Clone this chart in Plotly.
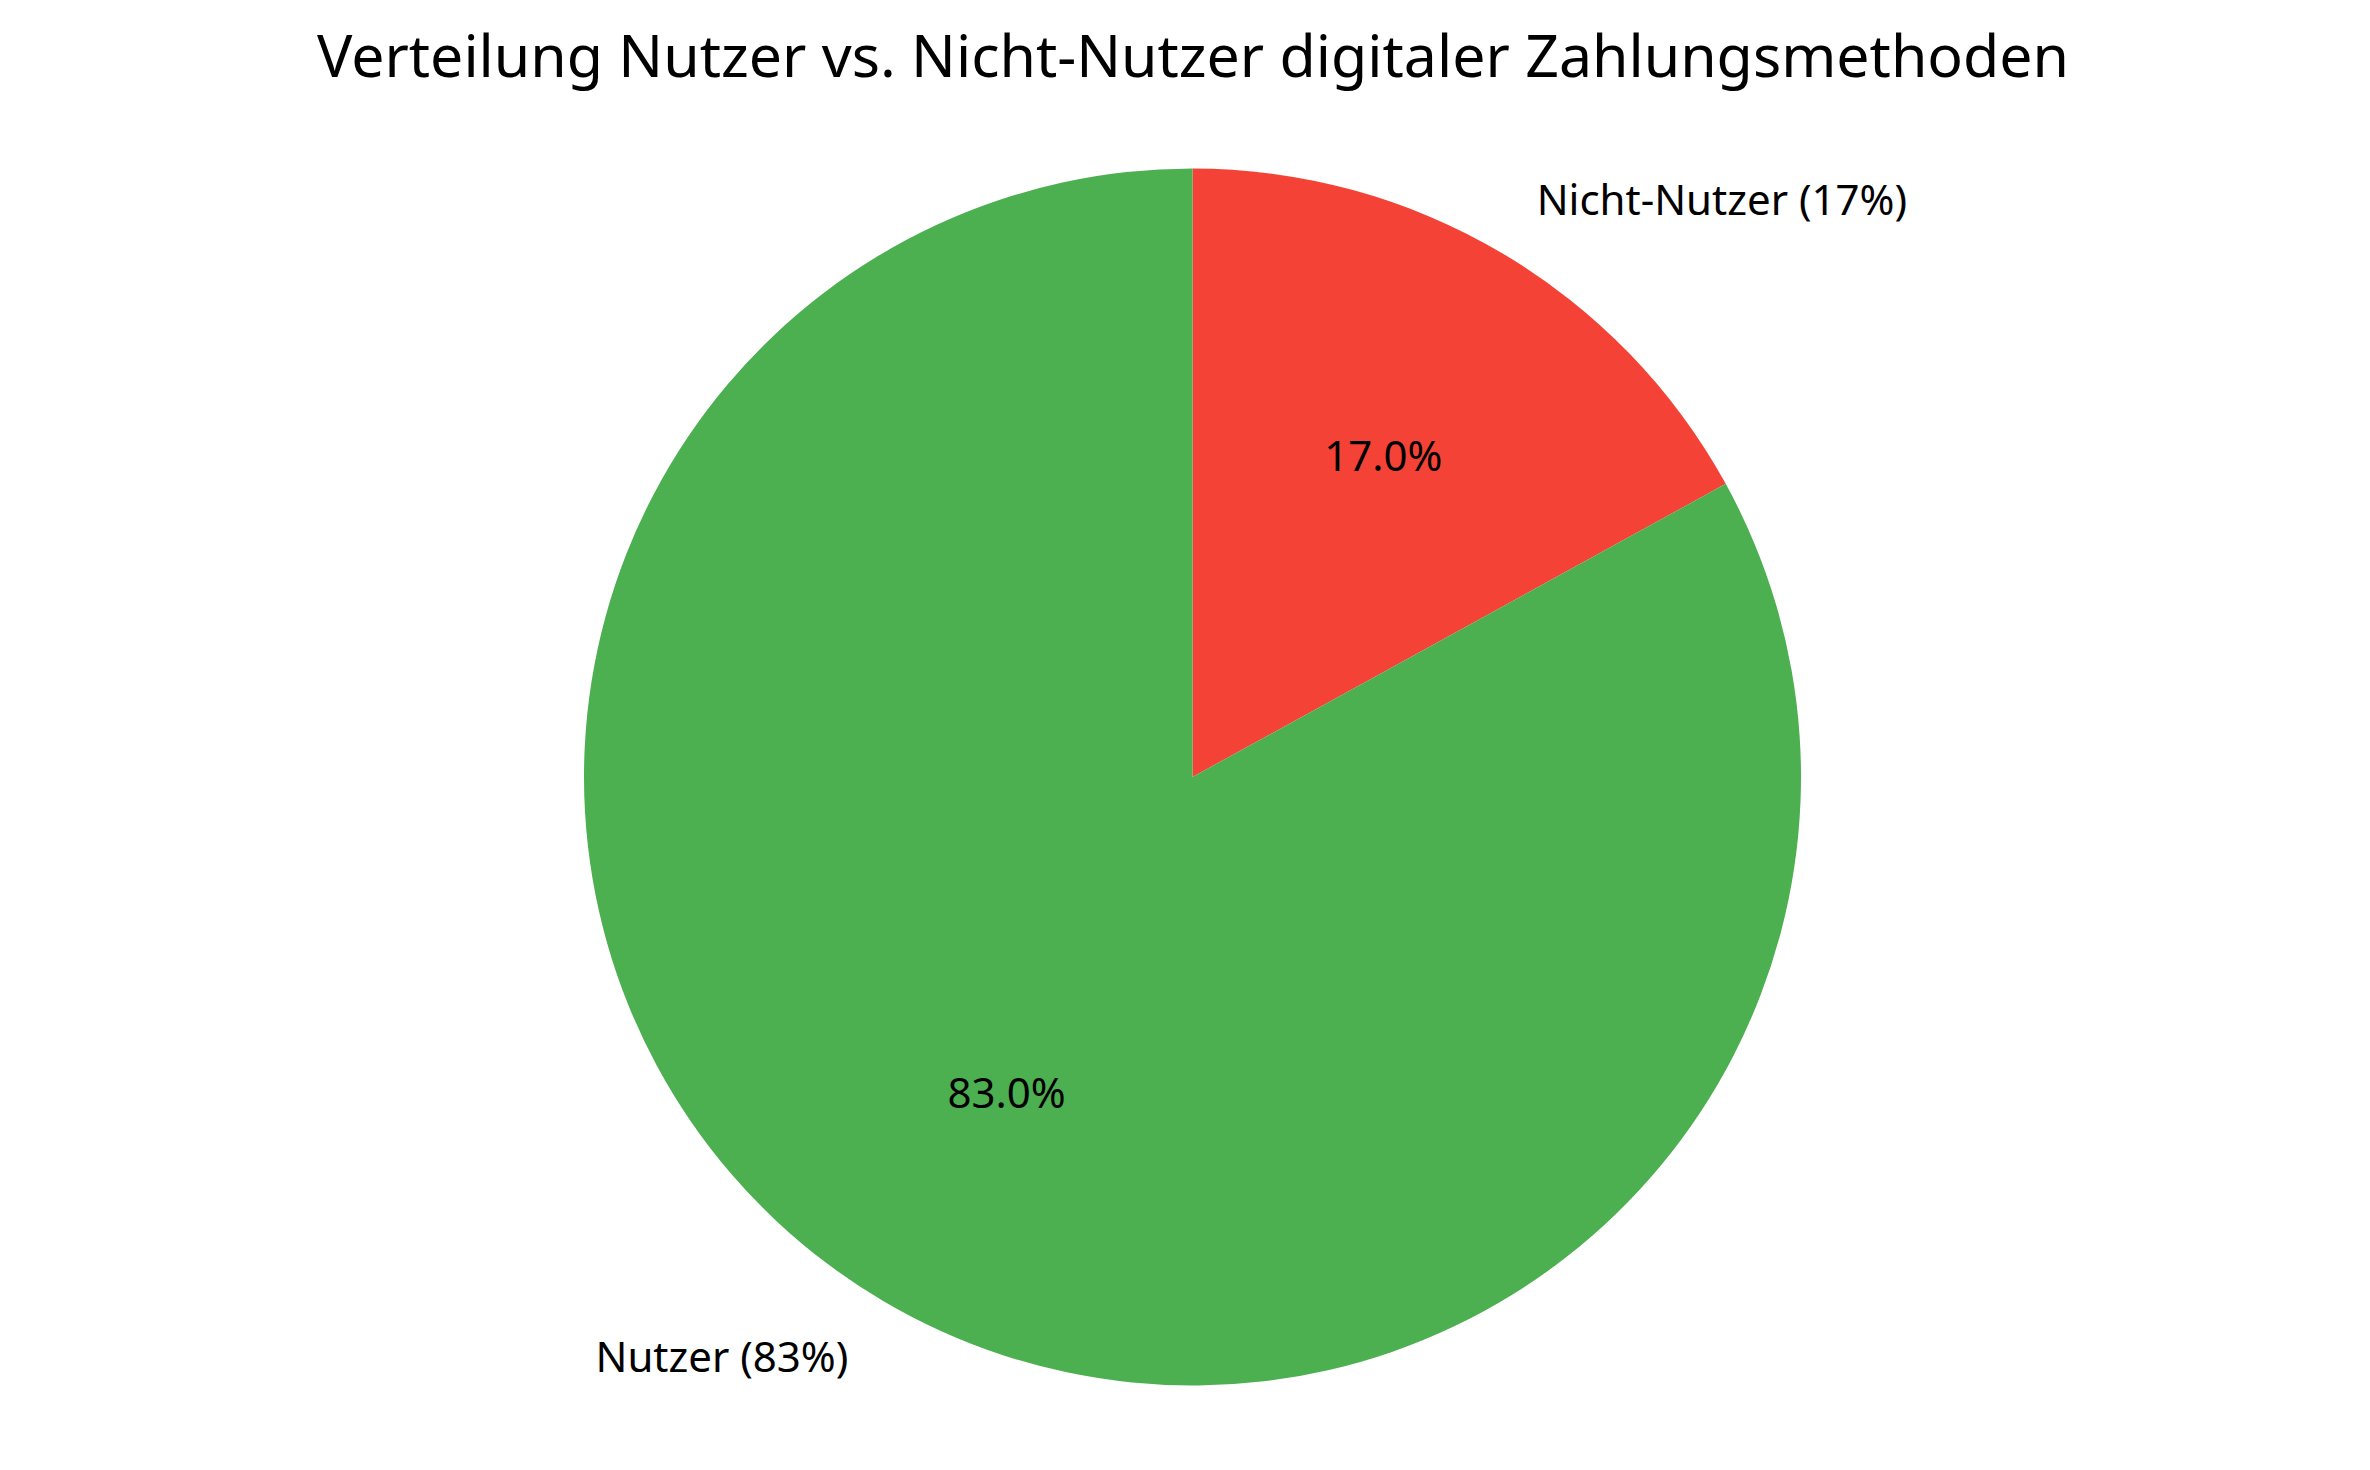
import plotly.graph_objects as go

categories = ["Nicht-Nutzer", "Nutzer"]
values = [17, 83]
colors = ["#F44336", "#4CAF50"]
outer_labels = [f"{c} ({v}%)" for c, v in zip(categories, values)]

W, H = 2370, 1470
CX, CY = 1184.5, 769.0   # pie centre in pixels
R = 608.5                 # pie radius in pixels


def dom(r):
    return dict(x=[(CX - r) / W, (CX + r) / W],
                y=[1 - (CY + r) / H, 1 - (CY - r) / H])


common = dict(labels=categories, values=values, sort=False,
              direction="clockwise", rotation=0,
              showlegend=False, hoverinfo="skip")
clear = dict(colors=["rgba(0,0,0,0)"] * len(values), line=dict(width=0))
txtfont = dict(family="Noto Sans", size=42, color="black")

fig = go.Figure()
# coloured pie
fig.add_trace(go.Pie(**common, marker=dict(colors=colors, line=dict(width=0)),
                     textinfo="none", domain=dom(R)))
# percentage of the large slice
fig.add_trace(go.Pie(**common, marker=clear, hole=0.2,
                     texttemplate="%{percent:.1%}", textposition=["none", "inside"],
                     insidetextorientation="horizontal", textfont=txtfont,
                     domain=dom(R)))
# percentage of the small slice
fig.add_trace(go.Pie(**common, marker=clear,
                     texttemplate="%{percent:.1%}", textposition=["inside", "none"],
                     insidetextorientation="horizontal", textfont=txtfont,
                     domain=dom(R * 0.93)))
# outer category labels
fig.add_trace(go.Pie(**common, marker=clear,
                     text=outer_labels, texttemplate="%{text}", textposition="outside",
                     outsidetextfont=txtfont, domain=dom(R * 1.065)))

fig.update_layout(
    width=W, height=H,
    margin=dict(l=0, r=0, t=0, b=0),
    paper_bgcolor="white", plot_bgcolor="white",
    title=dict(text="Verteilung Nutzer vs. Nicht-Nutzer digitaler Zahlungsmethoden",
               x=0.5, xanchor="center", y=1 - 48 / H, yanchor="middle",
               font=dict(family="Noto Sans", size=59, color="black")),
)
fig.write_html("out.html")
